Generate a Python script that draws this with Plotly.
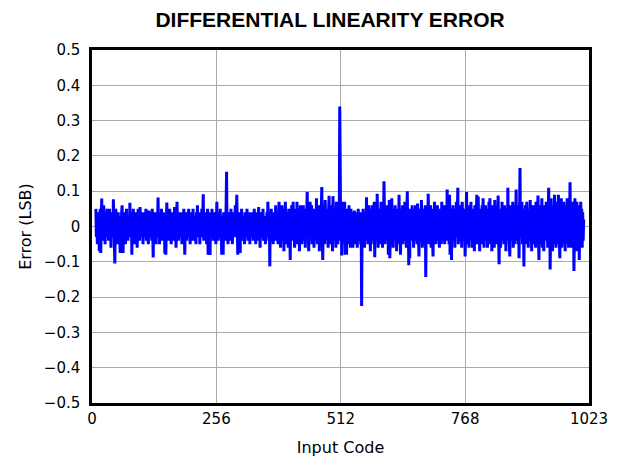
import plotly.graph_objects as go

# DNL values (LSB) for input codes starting at FIRST_CODE
FIRST_CODE = 8
dnl = [
    0.05, -0.03, 0.02, -0.05, 0.04, -0.01, 0.03, -0.07, 0.02, 0.05, -0.075, 0.01, 0.079, -0.02, 0.03, -0.04, 0.06, -0.01, 0.02, -0.05, 0.04, 0.00, -0.03, 0.05, -0.02,
    0.03, -0.04, 0.02, 0.05, -0.02, 0.01, -0.06, 0.04, -0.01, 0.03, -0.03, 0.077, 0.01, -0.04, -0.105, 0.02, 0.05, -0.02, 0.03, -0.05, 0.01, 0.04, -0.03, 0.02, -0.01,
    -0.075, 0.03, -0.02, 0.04, 0.06, -0.03, -0.075, 0.02, 0.04, -0.01, 0.03, -0.05, 0.01, 0.05, -0.03, 0.02, -0.04, 0.03, 0.00, -0.02, 0.067, -0.03, 0.02, 0.04, -0.08,
    0.02, -0.03, 0.05, -0.01, 0.03, -0.05, 0.02, 0.04, -0.03, 0.01, -0.06, 0.03, 0.05, -0.02, 0.02, -0.04, 0.055, -0.01, 0.03, -0.03, 0.01, 0.04, -0.05, 0.02, -0.02,
    0.04, -0.03, 0.01, 0.05, -0.04, 0.02, -0.01, 0.03, -0.05, 0.045, 0.00, -0.03, 0.04, -0.02, 0.02, -0.04, 0.05, 0.01, -0.088, 0.03, -0.02, 0.04, -0.03, 0.02, -0.05,
    0.03, -0.01, 0.02, 0.082, -0.03, 0.04, -0.05, 0.01, 0.03, -0.02, 0.05, -0.04, 0.02, 0.00, 0.04, -0.03, 0.02, -0.077, 0.03, -0.08, 0.01, 0.068, -0.02, 0.04, -0.04,
    0.02, -0.03, 0.05, -0.01, 0.03, -0.05, 0.01, 0.04, -0.02, 0.02, -0.04, 0.03, 0.055, -0.03, 0.01, -0.06, 0.02, 0.07, -0.02, 0.03, -0.04, 0.01, 0.04, -0.03, 0.02,
    -0.02, 0.04, -0.05, 0.02, 0.03, -0.03, 0.05, 0.00, -0.08, 0.03, -0.02, 0.04, -0.04, 0.02, 0.01, -0.03, 0.05, -0.02, 0.03, -0.05, 0.02, 0.04, -0.01, 0.03, -0.04,
    0.05, -0.02, 0.02, -0.04, 0.03, 0.01, -0.05, 0.04, -0.02, 0.06, -0.03, 0.02, -0.01, 0.04, -0.05, 0.03, 0.00, -0.03, 0.05, -0.02, 0.03, 0.091, -0.04, 0.02, -0.03,
    0.04, -0.01, 0.03, -0.05, 0.02, 0.05, -0.08, 0.03, -0.02, 0.04, -0.081, 0.02, 0.01, -0.03, 0.05, -0.02, 0.03, -0.04, 0.02, 0.04, -0.03, 0.01, -0.05, 0.03, 0.07,
    -0.03, 0.02, -0.04, 0.04, 0.01, -0.02, 0.05, -0.03, 0.02, -0.08, 0.03, 0.01, -0.08, 0.04, -0.02, 0.03, -0.04, 0.02, 0.05, 0.155, -0.03, 0.02, -0.05, 0.04, -0.01,
    0.03, -0.04, 0.02, 0.05, -0.02, 0.01, -0.05, 0.04, -0.01, 0.03, -0.03, 0.02, 0.06, -0.02, 0.01, 0.09, -0.03, -0.08, 0.03, 0.02, -0.04, 0.04, -0.075, 0.02, -0.01,
    0.05, -0.03, 0.02, -0.04, 0.03, 0.00, -0.05, 0.04, -0.02, 0.02, -0.03, 0.05, 0.01, -0.04, 0.03, -0.02, 0.04, -0.05, 0.02, 0.01, -0.03, 0.04, -0.02, 0.03, -0.04,
    0.02, 0.05, -0.03, 0.01, -0.05, 0.04, -0.01, 0.03, -0.04, 0.02, 0.055, -0.02, 0.01, -0.06, 0.03, -0.02, 0.04, 0.00, -0.03, 0.05, -0.04, 0.02, -0.01, 0.03, -0.05,
    0.03, -0.02, 0.04, -0.03, 0.07, 0.01, -0.04, 0.02, -0.113, 0.03, -0.02, 0.05, -0.03, 0.02, 0.00, -0.05, 0.04, -0.01, 0.03, -0.04, 0.06, -0.02, 0.02, -0.03, 0.04,
    -0.05, 0.02, 0.07, -0.03, 0.01, -0.06, 0.04, -0.02, 0.06, 0.01, -0.04, 0.03, -0.07, 0.05, -0.02, 0.07, -0.03, 0.02, -0.05, 0.04, 0.00, -0.06, 0.05, -0.02, 0.03,
    -0.095, 0.04, -0.02, 0.06, -0.04, 0.02, 0.07, -0.03, 0.01, -0.06, 0.05, -0.02, 0.03, -0.05, 0.07, -0.01, 0.02, -0.04, 0.05, -0.07, 0.03, 0.06, -0.03, 0.02, -0.05,
    0.04, -0.02, 0.06, -0.04, 0.02, 0.05, -0.06, 0.03, -0.01, 0.04, 0.098, -0.03, 0.02, -0.07, 0.05, -0.02, 0.07, -0.04, 0.01, 0.06, -0.05, 0.03, -0.02, 0.05, -0.06,
    0.03, -0.02, 0.05, -0.04, 0.08, 0.01, -0.05, 0.04, -0.02, 0.06, -0.07, 0.03, 0.01, -0.04, 0.05, 0.112, -0.03, -0.095, 0.04, -0.02, 0.06, -0.05, 0.075, 0.00, -0.04,
    0.05, -0.03, 0.02, -0.06, 0.04, 0.087, -0.02, 0.03, -0.05, 0.06, -0.01, 0.02, -0.07, 0.086, 0.01, -0.04, 0.05, -0.03, 0.02, -0.06, 0.07, -0.02, 0.04, -0.05, 0.03,
    -0.03, 0.04, 0.34, 0.02, -0.04, 0.05, -0.082, 0.07, -0.02, 0.03, -0.05, 0.04, 0.07, -0.08, 0.02, 0.05, -0.08, 0.03, -0.03, 0.04, -0.05, 0.06, -0.02, 0.03, -0.06,
    0.05, -0.04, 0.02, 0.04, -0.06, 0.03, -0.02, 0.045, -0.05, 0.01, 0.04, -0.03, 0.03, -0.06, 0.02, 0.05, -0.04, 0.03, -0.02, 0.04, -0.05, 0.02, -0.225, 0.03, -0.03,
    0.05, -0.02, 0.03, -0.06, 0.04, 0.01, -0.04, 0.083, -0.03, 0.05, -0.05, 0.02, 0.06, -0.03, 0.02, -0.07, 0.05, 0.01, -0.04, 0.06, -0.02, 0.03, -0.05, 0.07, -0.087,
    0.04, -0.02, 0.06, -0.04, 0.093, 0.02, -0.06, 0.04, -0.02, 0.05, -0.05, 0.03, 0.07, -0.03, 0.01, -0.06, 0.05, -0.02, 0.128, 0.03, -0.05, 0.04, -0.03, 0.06, -0.04,
    0.02, 0.05, -0.08, 0.03, 0.075, -0.09, 0.02, 0.04, -0.03, 0.08, -0.02, 0.03, -0.06, 0.05, 0.01, -0.04, 0.06, -0.03, 0.02, -0.07, 0.05, -0.01, 0.04, -0.05, 0.09,
    -0.03, 0.04, -0.08, 0.02, 0.05, -0.03, 0.06, -0.05, 0.03, 0.01, -0.04, 0.07, -0.02, 0.03, -0.06, 0.05, 0.10, -0.03, 0.04, -0.11, 0.03, -0.09, 0.05, -0.02, 0.04,
    -0.04, 0.06, -0.02, 0.03, -0.06, 0.05, 0.01, -0.04, 0.06, -0.03, 0.02, -0.05, 0.065, 0.01, -0.03, -0.085, 0.04, -0.02, 0.05, -0.04, 0.075, 0.00, -0.06, 0.04, -0.02,
    0.05, -0.05, 0.03, 0.06, -0.143, 0.02, -0.03, 0.05, -0.04, 0.093, 0.01, -0.05, 0.04, -0.02, 0.06, -0.06, 0.03, 0.02, -0.04, -0.085, 0.05, -0.02, 0.07, -0.03, 0.02,
    -0.05, 0.04, -0.01, 0.06, -0.04, 0.03, 0.01, -0.06, 0.05, -0.02, 0.03, -0.05, 0.07, -0.03, 0.02, -0.04, 0.06, 0.01, -0.05, 0.04, -0.02, 0.06, -0.04, 0.105, 0.02,
    -0.03, 0.05, -0.05, 0.09, -0.08, 0.03, 0.05, -0.095, 0.04, -0.02, 0.06, -0.04, 0.02, 0.05, -0.06, 0.03, -0.01, 0.07, -0.03, 0.04, 0.11, -0.05, 0.02, 0.05, -0.04,
    0.06, -0.02, 0.03, -0.06, 0.07, 0.01, -0.04, 0.05, -0.03, 0.04, -0.085, 0.03, 0.06, 0.098, -0.05, 0.02, -0.03, 0.06, -0.06, 0.04, 0.01, -0.04, 0.07, -0.02, 0.03,
    -0.06, 0.05, -0.02, 0.04, -0.07, 0.06, 0.01, -0.04, 0.05, 0.09, -0.05, 0.03, 0.085, -0.03, 0.02, -0.07, 0.05, -0.01, 0.04, -0.05, 0.06, -0.03, 0.08, 0.02, -0.06,
    0.04, -0.02, 0.06, -0.04, 0.03, 0.01, -0.06, 0.05, -0.03, 0.07, -0.05, 0.08, 0.02, -0.04, 0.05, -0.07, 0.03, 0.06, -0.03, 0.02, -0.06, 0.075, -0.02, 0.04, -0.05,
    0.05, -0.03, 0.02, 0.088, -0.04, -0.107, 0.04, 0.02, -0.06, 0.05, -0.02, 0.07, -0.04, 0.03, 0.01, -0.05, 0.06, -0.03, 0.04, -0.07, 0.05, 0.02, -0.04, 0.11, -0.03,
    0.04, -0.05, -0.085, 0.06, 0.02, -0.04, 0.05, -0.03, 0.07, -0.06, 0.03, 0.01, -0.05, 0.06, -0.02, 0.105, -0.04, 0.03, 0.06, -0.05, 0.04, -0.09, 0.02, 0.166, -0.03,
    0.05, -0.02, 0.07, -0.05, 0.03, 0.05, -0.113, 0.04, -0.03, 0.06, -0.05, 0.02, 0.07, -0.04, 0.03, -0.06, 0.05, 0.01, -0.04, 0.075, -0.03, 0.02, -0.07, 0.06, -0.02,
    0.04, -0.05, 0.06, -0.03, 0.03, -0.06, 0.07, 0.01, -0.04, 0.05, 0.088, -0.03, -0.095, 0.05, 0.02, -0.05, 0.06, -0.03, 0.08, -0.06, 0.04, 0.01, -0.07, 0.06, -0.02,
    0.05, -0.04, 0.07, -0.02, 0.03, -0.06, 0.09, 0.11, -0.03, 0.05, -0.122, 0.04, 0.08, -0.04, 0.02, -0.07, 0.06, 0.01, -0.05, 0.09, -0.03, 0.04, -0.06, 0.07, -0.02,
    0.05, -0.05, 0.09, 0.02, -0.04, -0.09, 0.06, -0.02, 0.08, -0.06, 0.03, 0.05, -0.05, 0.07, -0.03, 0.02, -0.07, 0.06, 0.01, -0.05, 0.08, -0.03, 0.04, -0.06, 0.07,
    0.02, 0.125, -0.04, 0.05, -0.06, 0.07, 0.01, -0.05, 0.06, -0.126, 0.03, 0.08, -0.04, 0.05, -0.07, 0.07, -0.02, 0.04, -0.06, 0.06, -0.095, 0.03, -0.05, 0.07, -0.03,
    0.05, -0.06, 0.04, -0.04, 0.02,
]
codes = list(range(FIRST_CODE, FIRST_CODE + len(dnl)))

x_ticks = [0, 256, 512, 768, 1023]
y_ticks = [0.5, 0.4, 0.3, 0.2, 0.1, 0, -0.1, -0.2, -0.3, -0.4, -0.5]
y_labels = ["0.5", "0.4", "0.3", "0.2", "0.1", "0", "\u22120.1", "\u22120.2", "\u22120.3", "\u22120.4", "\u22120.5"]

TICK_FONT = "DejaVu Sans, sans-serif"
TITLE_FONT = "Liberation Sans, Arial, sans-serif"

fig = go.Figure()
fig.add_trace(go.Scatter(
    x=codes, y=dnl, mode="lines",
    line=dict(color="#0000ff", width=3),
    showlegend=False, hoverinfo="skip",
))

axis_common = dict(
    showline=True, linecolor="black", linewidth=2.5, mirror=True,
    showgrid=True, gridcolor="#aaaaaa", gridwidth=1.3,
    zeroline=False, ticks="", automargin=False,
    tickfont=dict(family=TICK_FONT, size=15, color="black"),
)

# page body has an 8px default margin, so the figure is sized/margined to land the
# plot area at the reference position in the 621x460 window
fig.update_layout(
    width=613, height=452,
    margin=dict(l=84, r=32, t=42, b=57),
    paper_bgcolor="white", plot_bgcolor="white",
    title=dict(
        text="<b>DIFFERENTIAL LINEARITY ERROR</b>",
        font=dict(family=TITLE_FONT, size=21, color="black"),
        x=0.479, xref="paper", xanchor="center",
        y=0.974, yref="container", yanchor="middle",
    ),
    xaxis=dict(
        range=[0, 1023], tickvals=x_ticks, ticktext=[str(v) for v in x_ticks],
        title=dict(text="Input Code", font=dict(family=TICK_FONT, size=16, color="black"), standoff=16),
        **axis_common,
    ),
    yaxis=dict(
        range=[-0.5, 0.5], tickvals=y_ticks, ticktext=y_labels,
        title=dict(text="Error (LSB)", font=dict(family=TICK_FONT, size=16, color="black"), standoff=9),
        ticklabelstandoff=6,
        **axis_common,
    ),
)

fig.write_html("out.html")
